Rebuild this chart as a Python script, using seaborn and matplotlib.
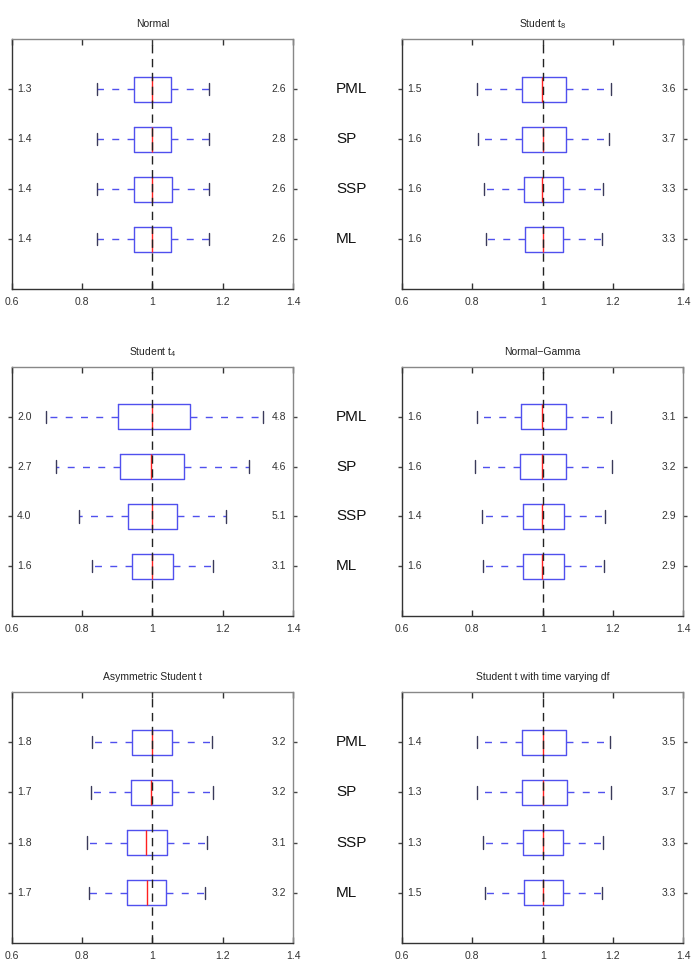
import numpy as np
import pandas as pd
import matplotlib
matplotlib.use("Agg")
import matplotlib.pyplot as plt
import seaborn as sns

sns.set_style("ticks")
plt.rcParams['font.family'] = ['Liberation Sans', 'DejaVu Sans']
plt.rcParams['mathtext.fontset'] = 'custom'
plt.rcParams['mathtext.rm'] = 'Liberation Sans'
plt.rcParams['mathtext.it'] = 'Liberation Sans'

methods = ["PML", "SP", "SSP", "ML"]
titles = ["Normal", "Student t$_{8}$", "Student t$_{4}$", "Normal\u2212Gamma",
          "Asymmetric Student t", "Student t with time varying df"]

# box stats per method: [whisker low, q1, median, q3, whisker high]
normal = [[0.842, 0.948, 0.998, 1.054, 1.160],
          [0.842, 0.947, 0.999, 1.054, 1.160],
          [0.843, 0.949, 0.999, 1.055, 1.160],
          [0.842, 0.948, 0.998, 1.054, 1.160]]
student8 = [[0.813, 0.940, 0.999, 1.066, 1.193],
            [0.816, 0.942, 1.000, 1.066, 1.189],
            [0.833, 0.947, 0.999, 1.059, 1.173],
            [0.838, 0.949, 1.000, 1.058, 1.170]]
student4 = [[0.698, 0.903, 1.000, 1.108, 1.315],
            [0.726, 0.909, 0.997, 1.091, 1.274],
            [0.791, 0.930, 0.998, 1.070, 1.210],
            [0.827, 0.943, 1.000, 1.058, 1.173]]
normgamma = [[0.812, 0.939, 0.999, 1.067, 1.194],
             [0.809, 0.937, 0.999, 1.067, 1.197],
             [0.827, 0.943, 0.999, 1.060, 1.177],
             [0.829, 0.944, 0.999, 1.060, 1.175]]
asymt = [[0.829, 0.943, 0.998, 1.057, 1.171],
         [0.825, 0.940, 0.996, 1.055, 1.172],
         [0.814, 0.928, 0.983, 1.043, 1.156],
         [0.820, 0.929, 0.984, 1.040, 1.149]]
tvdf = [[0.814, 0.941, 1.000, 1.067, 1.192],
        [0.813, 0.940, 1.000, 1.068, 1.195],
        [0.831, 0.945, 1.000, 1.059, 1.172],
        [0.836, 0.947, 1.001, 1.058, 1.169]]
panels = [normal, student8, student4, normgamma, asymt, tvdf]

left_vals = [["1.3", "1.4", "1.4", "1.4"],
             ["1.5", "1.6", "1.6", "1.6"],
             ["2.0", "2.7", "4.0", "1.6"],
             ["1.6", "1.6", "1.4", "1.6"],
             ["1.8", "1.7", "1.8", "1.7"],
             ["1.4", "1.3", "1.3", "1.5"]]
right_vals = [["2.6", "2.8", "2.6", "2.6"],
              ["3.6", "3.7", "3.3", "3.3"],
              ["4.8", "4.6", "5.1", "3.1"],
              ["3.1", "3.2", "2.9", "2.9"],
              ["3.2", "3.2", "3.1", "3.2"],
              ["3.5", "3.7", "3.3", "3.3"]]
xticks = [0.6, 0.8, 1.0, 1.2, 1.4]
xticklabels = ["0.6", "0.8", "1", "1.2", "1.4"]

W, H = 699, 961
fig = plt.figure(figsize=(W / 100, H / 100), dpi=100)
col_left = [11.7, 402]
row_tb = [(39, 289), (367, 616), (692, 943)]
axw = 281.3

blue = "#5050ee"
for i, stats in enumerate(panels):
    r, c = divmod(i, 2)
    top, bot = row_tb[r]
    ax = fig.add_axes([col_left[c] / W, 1 - bot / H, axw / W, (bot - top) / H])
    rows = []
    for m, s in zip(methods, stats):
        for v in s:
            rows.append({"method": m, "value": v})
    df = pd.DataFrame(rows)
    sns.boxplot(data=df, x="value", y="method", order=methods, orient="h",
                ax=ax, width=0.5, whis=(0, 100), fill=False, color=blue,
                linewidth=1.0, showfliers=False,
                boxprops={"color": blue, "linewidth": 1.0},
                whiskerprops={"color": blue, "linestyle": (0, (5, 6)), "linewidth": 1.0},
                capprops={"color": "#3a3a5a", "linewidth": 1.0},
                medianprops={"color": "#ff2020", "linewidth": 1.0})
    ax.axvline(1.0, color="#222222", lw=1.0, dashes=(6, 4), zorder=5)
    ax.set_xlim(0.6, 1.4)
    ax.set_ylim(4.0, -1.0)
    ax.set_xticks(xticks)
    ax.set_xticklabels(xticklabels)
    ax.set_yticks(range(4))
    ax.set_yticklabels([])
    ax.set_xlabel("")
    ax.set_ylabel("")
    ax.tick_params(axis="x", which="major", direction="in", top=True, bottom=True,
                   length=4, width=1.0, labelsize=7.5, color="#333333",
                   labelcolor="#333333", pad=6)
    ax.tick_params(axis="y", which="major", direction="out", left=True, right=True,
                   length=3, width=1.0, color="#444444")
    for sp in ["left", "bottom"]:
        ax.spines[sp].set_color("#333333")
        ax.spines[sp].set_linewidth(1.0)
        ax.spines[sp].set_visible(True)
    for sp in ["top", "right"]:
        ax.spines[sp].set_color("#888888")
        ax.spines[sp].set_linewidth(1.0)
        ax.spines[sp].set_visible(True)
    for k in range(4):
        ax.text(0.615, k, left_vals[i][k], ha="left", va="center",
                fontsize=7.5, color="#333333")
        ax.text(1.38, k, right_vals[i][k], ha="right", va="center",
                fontsize=7.5, color="#333333")
        if c == 1:
            ax.text(-0.235, k, methods[k], transform=ax.get_yaxis_transform(),
                    ha="left", va="center", fontsize=11, color="#111111")
    ax.set_title(titles[i], fontsize=7.5, color="#222222", pad=8.5)

fig.savefig("out.png", dpi=100)
